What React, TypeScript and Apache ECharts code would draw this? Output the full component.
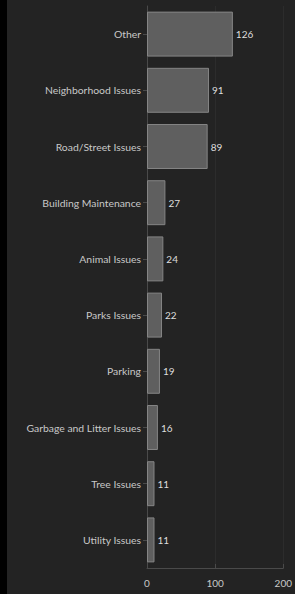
import React, { useEffect, useRef } from "react";
import * as echarts from "echarts";

const categories = [
  "Other",
  "Neighborhood Issues",
  "Road/Street Issues",
  "Building Maintenance",
  "Animal Issues",
  "Parks Issues",
  "Parking",
  "Garbage and Litter Issues",
  "Tree Issues",
  "Utility Issues",
];
const values = [126, 91, 89, 27, 24, 22, 19, 16, 11, 11];
const xTicks = [0, 100, 200];

export default function App() {
  const ref = useRef<HTMLDivElement>(null);
  useEffect(() => {
    document.body.style.margin = "0";
    const chart = echarts.init(ref.current!, undefined, { renderer: "svg" });
    chart.setOption({
      animation: false,
      backgroundColor: "#232323",
      grid: { left: 140, right: 10, top: 6, bottom: 26, containLabel: false },
      xAxis: {
        type: "value",
        min: xTicks[0],
        max: xTicks[xTicks.length - 1],
        interval: 100,
        axisLine: { show: true, lineStyle: { color: "#4a4a4a" } },
        axisTick: { show: true, inside: true, length: 4, lineStyle: { color: "#4a4a4a" } },
        splitLine: { show: true, lineStyle: { color: "#2c2c2c" } },
        axisLabel: { color: "#c8c8c8", fontSize: 10, fontFamily: "Lato", margin: 10 },
      },
      yAxis: {
        type: "category",
        data: categories,
        inverse: true,
        axisLine: { show: true, lineStyle: { color: "#4a4a4a" } },
        axisTick: { show: true, alignWithLabel: true, length: 4, lineStyle: { color: "#4a4a4a" } },
        axisLabel: { color: "#c8c8c8", fontSize: 10.4, fontFamily: "Lato", margin: 6 },
      },
      series: [
        {
          type: "bar",
          data: values,
          barCategoryGap: "20%",
          itemStyle: { color: "#5f5f5f", borderColor: "#858585", borderWidth: 1 },
          label: {
            show: true,
            position: "right",
            distance: 3,
            color: "#dedede",
            fontSize: 10,
            fontFamily: "Lato",
          },
        },
      ],
    });
    return () => chart.dispose();
  }, []);
  return (
    <div style={{ width: 295, height: 594, background: "#000", position: "relative" }}>
      <div ref={ref} style={{ position: "absolute", left: 7, top: 0, width: 288, height: 594 }} />
    </div>
  );
}
